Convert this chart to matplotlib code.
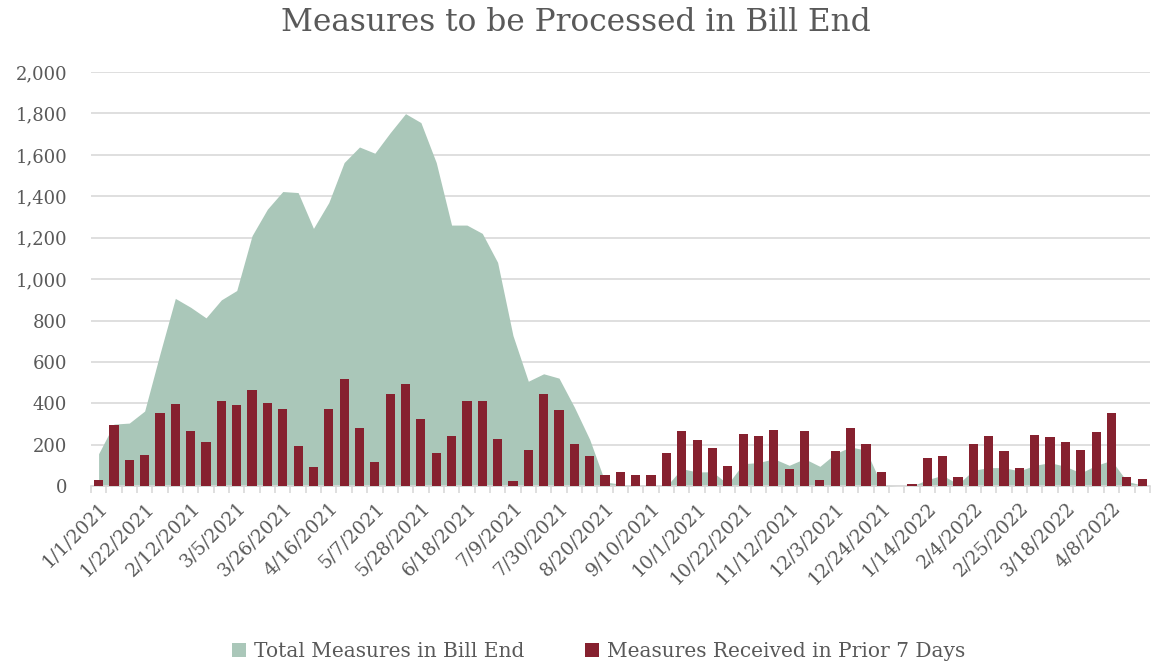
"""
Measures to be Processed in Bill End: weekly area + bar chart
"""
import numpy as np
import pandas as pd
import matplotlib
matplotlib.use("Agg")
import matplotlib.pyplot as plt
from matplotlib.ticker import FuncFormatter

# weekly categories, 1/1/2021 .. 4/22/2022
weeks = pd.date_range("2021-01-01", periods=69, freq="7D")
week_labels = [f"{d.month}/{d.day}/{d.year}" for d in weeks]

total_in_bill_end = [
    157, 300, 305, 363, 640, 907, 864, 813, 900, 945,
    1210, 1338, 1423, 1418, 1245, 1370, 1563, 1638, 1608, 1707,
    1799, 1756, 1563, 1261, 1261, 1221, 1081, 728, 507, 543,
    522, 382, 226, 21, 10, 0, 0, 0, 85, 69,
    70, 10, 109, 114, 133, 101, 133, 96, 157, 190,
    174, 10, 0, 0, 32, 53, 10, 77, 90, 90,
    74, 101, 114, 96, 64, 101, 125, 24, 5,
]
received_prior_7 = [
    30, 295, 129, 151, 353, 398, 267, 215, 414, 392,
    466, 403, 374, 196, 93, 374, 519, 283, 116, 443,
    492, 323, 161, 243, 414, 414, 226, 24, 174, 443,
    369, 202, 145, 53, 69, 53, 53, 162, 267, 222,
    186, 100, 254, 243, 273, 82, 267, 32, 169, 283,
    202, 69, 0, 13, 138, 145, 47, 202, 243, 169,
    88, 249, 238, 215, 174, 260, 352, 47, 35,
]

GREEN = "#AAC7B9"
MAROON = "#86212F"
TEXT = "#595959"
GRID = "#D9D9D9"

plt.rcParams["font.family"] = ["DejaVu Serif"]

fig = plt.figure(figsize=(11.51, 6.67), dpi=100)
ax = fig.add_axes([0.079, 0.271, 0.92, 0.621])

x = np.arange(len(weeks))
ax.fill_between(x, total_in_bill_end, color=GREEN, lw=0,
                label="Total Measures in Bill End", zorder=2)
ax.bar(x, received_prior_7, width=0.6, color=MAROON,
       label="Measures Received in Prior 7 Days", zorder=3)

ax.set_xlim(-0.5, len(weeks) - 0.5)
ax.set_ylim(0, 2000)
ax.set_yticks(range(0, 2001, 200))
ax.yaxis.set_major_formatter(FuncFormatter(lambda v, p: f"{int(v):,}"))
ax.tick_params(axis="y", length=0, labelsize=13, labelcolor=TEXT, pad=17)
ax.grid(axis="y", color=GRID, lw=1.2, zorder=0)
ax.set_axisbelow(True)

# labels every 3rd week, tick marks between categories
ax.set_xticks(x[::3])
ax.set_xticklabels(week_labels[::3], rotation=45, ha="right",
                   rotation_mode="anchor")
ax.set_xticks(np.arange(-0.5, len(weeks), 1), minor=True)
ax.tick_params(axis="x", which="major", length=0, labelsize=13.5,
               labelcolor=TEXT, pad=9)
ax.tick_params(axis="x", which="minor", length=5, color=GRID, width=1.2)

for s in ["top", "right", "left"]:
    ax.spines[s].set_visible(False)
ax.spines["bottom"].set_color(GRID)
ax.spines["bottom"].set_linewidth(1.2)

fig.suptitle("Measures to be Processed in Bill End", fontsize=22.5,
             color=TEXT, y=0.99)
fig.legend(loc="lower center", bbox_to_anchor=(0.52, -0.018), ncol=2,
           frameon=False, fontsize=14.5, labelcolor=TEXT,
           handlelength=0.7, handleheight=0.7, handletextpad=0.4,
           columnspacing=3.0)

fig.savefig("out.png", dpi=100)
